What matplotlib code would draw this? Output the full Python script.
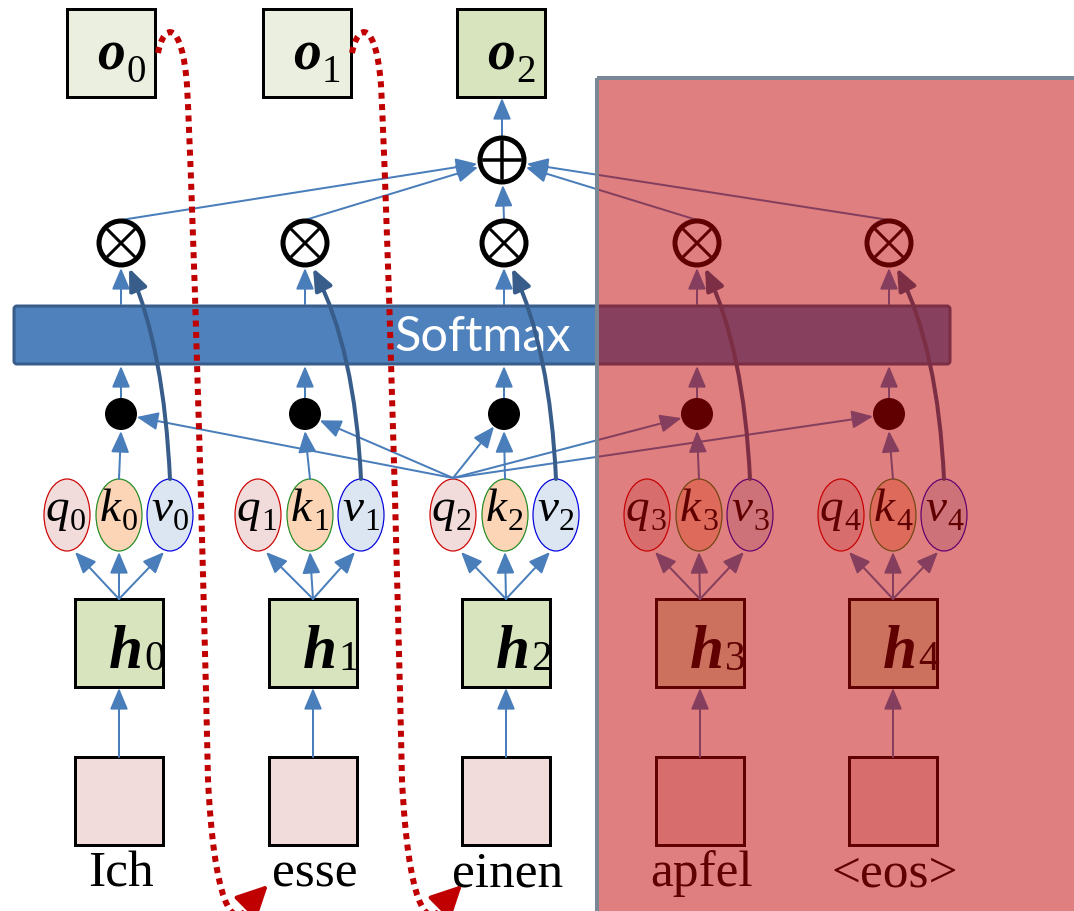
import numpy as np
import matplotlib.pyplot as plt
from matplotlib.patches import Rectangle, Circle, Ellipse, FancyArrowPatch, FancyBboxPatch, PathPatch
from matplotlib.path import Path

# diagram content
words = ['Ich', 'esse', 'einen', 'apfel', '<eos>']
h_x = [119, 313, 506, 700, 893]      # h boxes / input boxes
k_x = [119, 310, 505, 699, 893]      # key ellipses
dot_x = [121, 305, 504, 697, 889]    # dot products / multiply nodes
o_x = [111, 307, 501]                # outputs
o_fill = ['#EBEFDF', '#EBEFDF', '#D7E4BD']
query_src = 2                        # q2 attends to every key

BLUE = '#4A7EBB'
DARK = '#385D8A'
RED = '#C00000'
SERIF = 'Liberation Serif'

fig = plt.figure(figsize=(10.74, 9.11), dpi=100)
ax = fig.add_axes([0, 0, 1, 1])
ax.set_xlim(0, 1074)
ax.set_ylim(911, 0)
ax.axis('off')

PX = 0.72  # points per pixel


def arrow(p0, p1, color=BLUE, lw=2, scale=10, z=3):
    a = FancyArrowPatch(p0, p1, arrowstyle='-|>,head_length=1.3,head_width=0.55',
                        mutation_scale=scale, color=color, lw=lw * PX,
                        shrinkA=0, shrinkB=0, zorder=z)
    ax.add_patch(a)


def toward(p_from, center, r):
    d = np.array(center, float) - np.array(p_from, float)
    return tuple(np.array(center) - d / np.linalg.norm(d) * r)


def sym(x, y, letter, digit, size, dsize, dy, bold=False):
    # letter with subscript digit, split at x, letter baseline y
    ax.text(x, y, letter, fontsize=size, family=SERIF, style='italic',
            weight='bold' if bold else 'normal', ha='right', va='baseline', zorder=4)
    ax.text(x + 1, y + dy, digit, fontsize=dsize, family=SERIF,
            ha='left', va='baseline', zorder=4)


def box(cx, cy, fc):
    ax.add_patch(Rectangle((cx - 44, cy - 44), 88, 88, fc=fc, ec='black',
                           lw=3 * PX, zorder=2))


def times_node(cx, cy):
    ax.add_patch(Circle((cx, cy), 22, fc='white', ec='black', lw=5 * PX, zorder=4))
    d = 13
    ax.plot([cx - d, cx + d], [cy - d, cy + d], color='black', lw=3 * PX, zorder=5)
    ax.plot([cx - d, cx + d], [cy + d, cy - d], color='black', lw=3 * PX, zorder=5)


# input boxes, words, h boxes
for i, w in enumerate(words):
    box(h_x[i], 801, '#F2DCDB')
    ax.text(h_x[i] + 2, 874, w, fontsize=37, family=SERIF,
            ha='center', va='center', zorder=4)
    arrow((h_x[i], 757), (h_x[i], 688))
    box(h_x[i], 643, '#D7E4BD')
    sym(h_x[i] + 24, 668, 'h', str(i), 44, 30, 2, bold=True)

# q, k, v ellipses
qkv_fill = ['#F2DCDB', '#FBD5B5', '#DCE6F2']
qkv_edge = ['#CC0000', '#228B22', '#0000DD']
qkv_name = ['q', 'k', 'v']
for i in range(5):
    for j, off in enumerate([-52, 0, 51]):
        ex = k_x[i] + off
        ax.add_patch(Ellipse((ex, 515), 46, 72, fc=qkv_fill[j], ec=qkv_edge[j],
                             lw=1.2 * PX, zorder=2))
        sym(ex + 2, 521, qkv_name[j], str(i), 34, 23, 9)
        tip = (ex + [8, 0, -6][j], 552)
        arrow((h_x[i], 599), tip)
    # k -> dot
    arrow((k_x[i], 479), (dot_x[i], 431))
    ax.add_patch(Circle((dot_x[i], 414), 16, fc='black', ec='none', zorder=4))
    # q2 -> dot
    src = (k_x[query_src] - 52, 478)
    arrow(src, toward(src, (dot_x[i], 414), 16))
    # dot -> softmax, softmax -> times
    arrow((dot_x[i], 398), (dot_x[i], 366))
    arrow((dot_x[i], 304), (dot_x[i], 268))
    times_node(dot_x[i], 243)
    # v -> times, thick curve
    vx = k_x[i] + 51
    verts = [(vx, 479), (vx - 6, 350), (dot_x[i] + 8, 268)]
    ax.add_patch(FancyArrowPatch(path=Path(verts, [Path.MOVETO, Path.CURVE3, Path.CURVE3]),
                                 arrowstyle='-|>,head_length=1.2,head_width=0.5',
                                 mutation_scale=11, color=DARK, lw=4 * PX, zorder=6))
    # times -> sum
    arrow((dot_x[i], 220), toward((dot_x[i], 220), (502, 160), 25))

# softmax bar
ax.add_patch(FancyBboxPatch((14, 306), 936, 58, boxstyle='round,pad=0,rounding_size=3',
                            fc='#4F81BD', ec=DARK, lw=3 * PX, zorder=3.5))
ax.text(483, 337, 'Softmax', color='white', fontsize=35, family='Lato',
        ha='center', va='center', zorder=3.6)

# sum node and outputs
ax.add_patch(Circle((502, 160), 22, fc='white', ec='black', lw=5 * PX, zorder=4))
ax.plot([484, 520], [160, 160], color='black', lw=3.5 * PX, zorder=5)
ax.plot([502, 502], [142, 178], color='black', lw=3.5 * PX, zorder=5)
arrow((502, 136), (502, 98))
for i, ox in enumerate(o_x):
    ax.add_patch(Rectangle((ox - 44, 9), 88, 88, fc=o_fill[i], ec='black',
                           lw=3 * PX, zorder=2))
    sym(ox + 14, 70, 'o', str(i), 40, 28, 12, bold=True)

# red dotted feedback curves (output fed back as next input)
for sx in [158, 352]:
    verts = [(sx, 53), (sx + 6, 22), (sx + 24, 20), (sx + 29, 85),
             (sx + 35, 200), (sx + 45, 550), (sx + 50, 780),
             (sx + 56, 900), (sx + 74, 935), (sx + 92, 905)]
    codes = [Path.MOVETO] + [Path.CURVE4] * 9
    ax.add_patch(PathPatch(Path(verts, codes), fc='none', ec=RED, lw=6 * PX,
                           ls=(0, (1.0, 0.9)), zorder=7))
    ax.add_patch(FancyArrowPatch((sx + 88, 907), (sx + 110, 885),
                                 arrowstyle='-|>,head_length=1.2,head_width=0.6',
                                 mutation_scale=16, color=RED, lw=4 * PX,
                                 shrinkA=0, shrinkB=0, zorder=7))

# masked future positions
ax.add_patch(Rectangle((597, 78), 520, 860, fc=RED, alpha=0.5, ec='none', zorder=10))
ax.add_patch(Rectangle((597, 78), 520, 860, fc='none', ec='#7A8794', lw=4 * PX, zorder=10))

fig.savefig('out.png', dpi=100, facecolor='white')
